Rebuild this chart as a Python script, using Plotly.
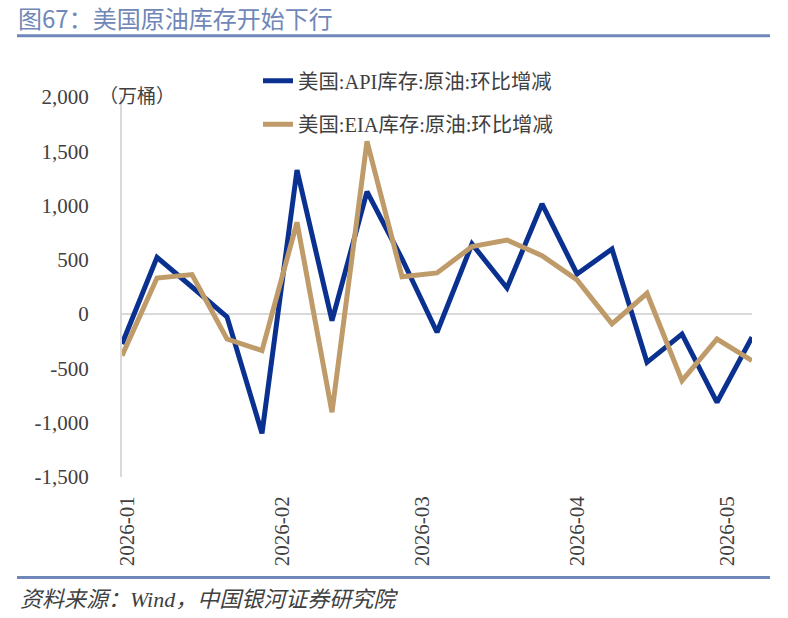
import plotly.graph_objects as go
import pandas as pd

# ---- data ----
dates = pd.date_range("2025-12-31", periods=19, freq="7D").strftime("%Y-%m-%d").tolist()
api_values = [-275, 523, 250, -25, -1098, 1328, -60, 1128, 510, -167, 646, 241,
              1015, 370, 600, -444, -183, -812, -213]
eia_values = [-382, 333, 364, -229, -336, 846, -904, 1592, 345, 380, 622, 683,
              539, 315, -90, 192, -612, -229, -428]
series_names = ["美国:API库存:原油:环比增减", "美国:EIA库存:原油:环比增减"]
y_ticks = [-1500, -1000, -500, 0, 500, 1000, 1500, 2000]
y_tick_text = ["-1,500", "-1,000", "-500", "0", "500", "1,000", "1,500", "2,000"]
x_ticks = ["2026-01-01", "2026-02-01", "2026-03-01", "2026-04-01", "2026-05-01"]
x_tick_text = ["2026-01", "2026-02", "2026-03", "2026-04", "2026-05"]
title_text = "图67：美国原油库存开始下行"
source_text = "资料来源：Wind，中国银河证券研究院"
unit_text = "（万桶）"

# ---- layout geometry ----
W, H = 788, 618
L, R, T, B = 122, 36, 97, 141
PW, PH = W - L - R, H - T - B

def px_x(x):
    return (x - L) / PW

def px_y(y):
    return (H - B - y) / PH

SERIF = "Liberation Serif, Noto Sans CJK SC, serif"
TXT = "#404040"
BAR = "#6f87b9"

fig = go.Figure()
fig.add_trace(go.Scatter(x=dates, y=api_values, mode="lines", name=series_names[0],
                         legendgroup="a",
                         line=dict(color="#0b3190", width=5)))
fig.add_trace(go.Scatter(x=dates, y=eia_values, mode="lines", name=series_names[1],
                         legendgroup="b",
                         line=dict(color="#bf9b69", width=5)))

fig.update_layout(
    width=W, height=H,
    margin=dict(l=L, r=R, t=T, b=B, pad=0),
    paper_bgcolor="white", plot_bgcolor="white",
    font=dict(family=SERIF, size=20, color=TXT),
    showlegend=True,
    legend=dict(x=px_x(258), y=px_y(61), xanchor="left", yanchor="top",
                traceorder="grouped", tracegroupgap=14,
                font=dict(family=SERIF, size=20.4, color=TXT),
                bgcolor="rgba(0,0,0,0)"),
    xaxis=dict(type="date", range=[dates[0], dates[-1]],
               tickvals=x_ticks, ticktext=x_tick_text, tickangle=-90,
               showgrid=False, showline=False, zeroline=False, ticks="",
               ticklabelstandoff=14,
               tickfont=dict(family=SERIF, size=21, color=TXT)),
    yaxis=dict(range=[-1500, 2000], tickvals=y_ticks, ticktext=y_tick_text,
               showgrid=False, zeroline=True, zerolinecolor="#d9d9d9", zerolinewidth=2,
               showline=True, linecolor="#d9d9d9", linewidth=2, ticks="",
               ticklabelstandoff=27,
               tickfont=dict(family=SERIF, size=21, color=TXT)),
)

fig.add_shape(type="line", xref="paper", yref="paper",
              x0=px_x(17), x1=px_x(770), y0=px_y(35.8), y1=px_y(35.8),
              line=dict(color=BAR, width=3))
fig.add_shape(type="line", xref="paper", yref="paper",
              x0=px_x(17), x1=px_x(770), y0=px_y(577.5), y1=px_y(577.5),
              line=dict(color=BAR, width=3))

fig.add_annotation(text=title_text, xref="paper", yref="paper",
                   x=px_x(16), y=px_y(17), xanchor="left", yanchor="middle",
                   showarrow=False,
                   font=dict(family="Noto Sans CJK SC", size=24, color="#7087b8"))
fig.add_annotation(text="<i>" + source_text + "</i>", xref="paper", yref="paper",
                   x=px_x(18), y=px_y(599), xanchor="left", yanchor="middle",
                   showarrow=False,
                   font=dict(family=SERIF, size=22, color=TXT))
fig.add_annotation(text=unit_text, xref="paper", yref="paper",
                   x=px_x(97), y=px_y(96), xanchor="left", yanchor="middle",
                   showarrow=False,
                   font=dict(family=SERIF, size=19, color=TXT))

fig.write_html("out.html")
